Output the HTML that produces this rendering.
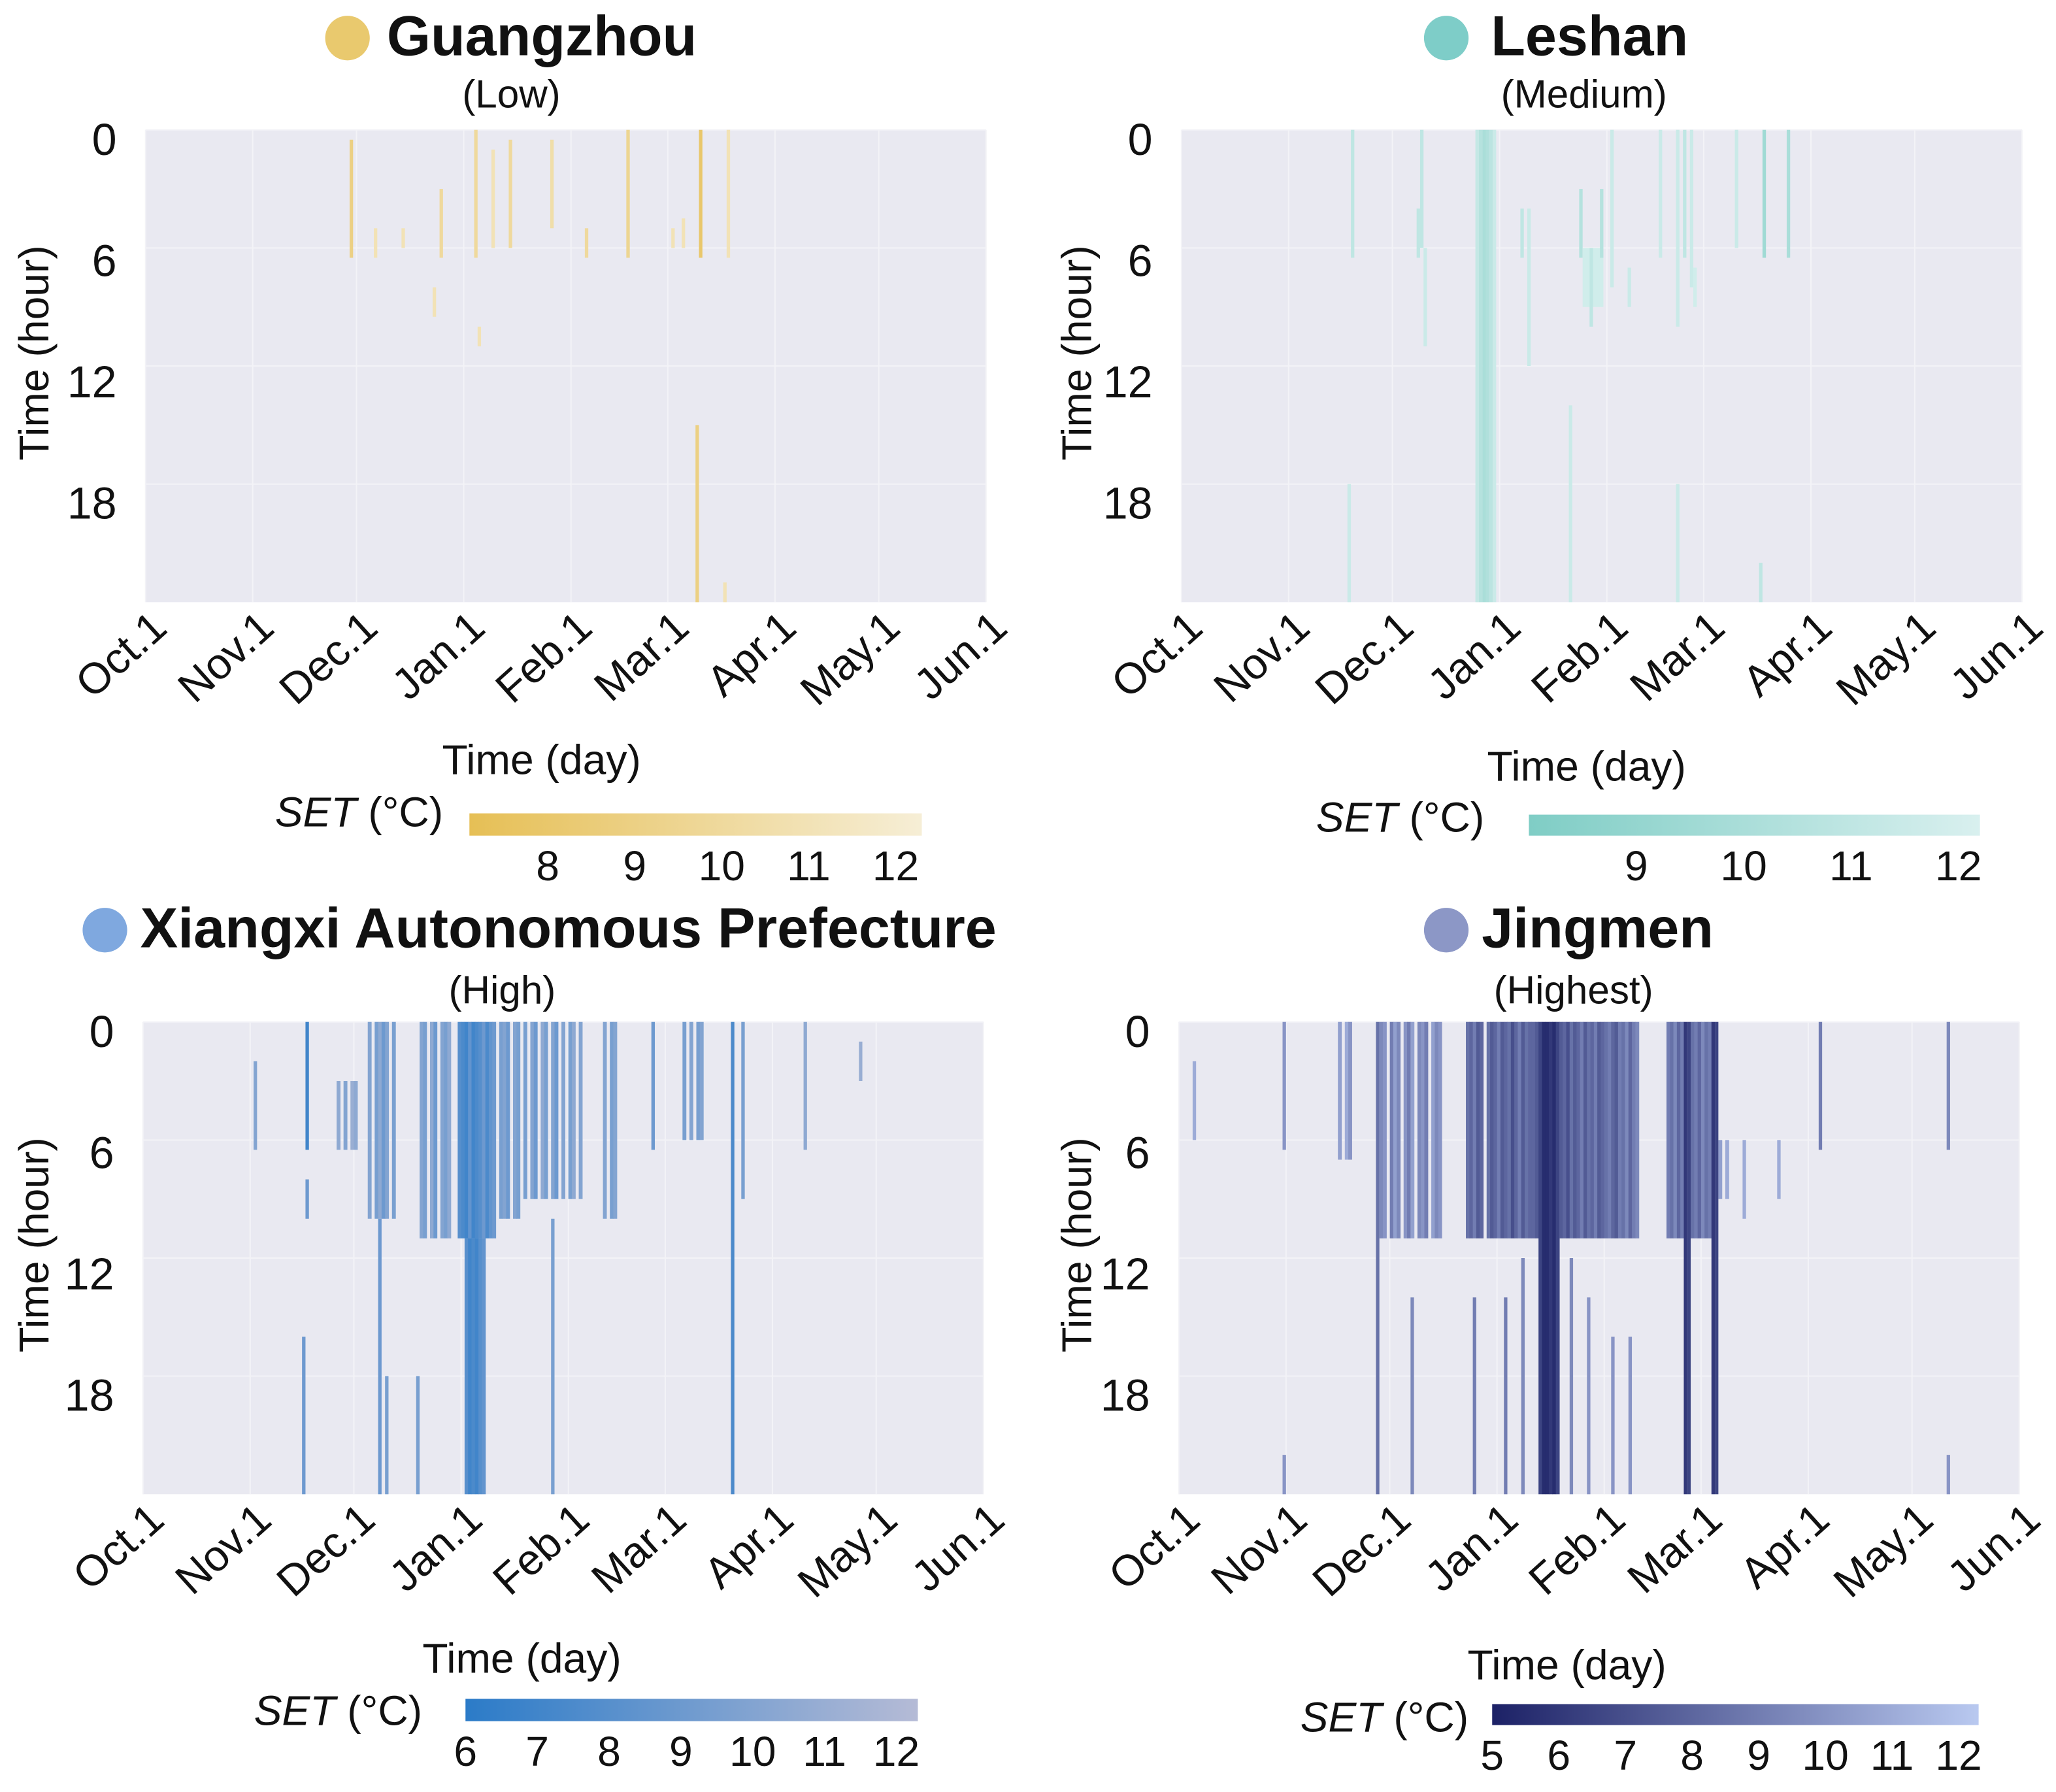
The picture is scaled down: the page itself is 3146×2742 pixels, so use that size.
<!DOCTYPE html>
<html><head><meta charset="utf-8">
<style>
html,body{margin:0;padding:0;background:#fff;}
svg{display:block;font-family:"Liberation Sans",Arial,sans-serif;}
</style></head>
<body>
<svg id="chart" width="3146" height="2742" viewBox="0 0 1568 1366" preserveAspectRatio="none" xmlns="http://www.w3.org/2000/svg"></svg>
<script>
// ---- data ----
const monthLabels = ["Oct.1","Nov.1","Dec.1","Jan.1","Feb.1","Mar.1","Apr.1","May.1","Jun.1"];
const monthDays = [0,31,61,92,123,151,182,212,243];
const hourTicks = [0,6,12,18];
const gzTicks = [8,9,10,11,12];
const lsTicks = [9,10,11,12];
const xxTicks = [6,7,8,9,10,11,12];
const jmTicks = [5,6,7,8,9,10,11,12];
// single events: [dayStart, dayEnd, hourStart, hourEnd, SET]
const gzEvents = [
 [59,60,0.5,6.5,9],[66,67,5,6.5,11],[74,75,5,6,11],[83,84,8,9.5,11],[85,86,3,6.5,10],
 [95,96,0,6.5,10],[96,97,10,11,11],[100,101,1,6,11],[105,106,0.5,6,10],[117,118,0.5,5,10.5],
 [127,128,5,6.5,10],[139,140,0,6.5,9.5],[152,153,5,6,11],[155,156,4.5,6,11],
 [160,161,0,6.5,8],[159,160,15,24,9],[168,169,0,6.5,11],[167,168,23,24,11]
];
const lsEvents = [
 [86,87,0,24,10.5],[87,88,0,24,10],[88,89,0,24,10.3],[89,90,0,24,10.8],[85,86,0,24,11.2],[90,91,0,24,11.5],
 [49,50,0,6.5,11],[48,49,18,24,11.5],[68,69,4,6.5,11],[69,70,0,6,11],[70,71,6,11,11.5],
 [98,99,4,6.5,11],[100,101,4,12,11.5],[112,113,14,24,11.5],[115,116,3,6.5,10.5],
 [116,122,6,9,11.8],[118,119,6,10,11],[121,122,3,6.5,10.5],[124,125,0,8,11.5],[129,130,7,9,11.5],
 [138,139,0,6.5,11.5],[143,144,0,10,11.5],[143,144,18,24,11.5],[145,146,0,6.5,11],[147,148,0,8,11.5],
 [148,149,7,9,11.8],[160,161,0,6,11.5],[168,169,0,6.5,9.5],[167,168,22,24,11],[175,176,0,6.5,10]
];
const xxEvents = [
 [32,33,2,6.5,10],[47,48,0,6.5,7],[47,48,8,10,9],[46,47,16,24,9],
 [68,69,10,24,9],[70,71,18,24,9.5],[79,80,18,24,9.5],[118,119,10,24,9.5],
 [147,148,0,6.5,9],[170,171,0,24,7.5],[173,174,0,9,9.5],
 [191,192,0,6.5,10.5],[207,208,1,3,11]
];
// stripe blocks: [firstDay, hourStart, hourEnd, per-day SET values (null = none)]
const xxStripes = [
 [56,3,6.5,[10.5,null,10,null,11,10.5]],
 [65,0,10,[10,null,9.5,10.5,9,10,null,9.5]],
 [80,0,11,[10,9.5,null,10.5,9,null,10,9.5,10.5]],
 [91,0,11,[8,7.5,7,8.5,7,7.5,8,9,7.5,8.5,9]],
 [93,11,24,[8,7,7.5,7,8,8.5]],
 [103,0,10,[9.5,10,9,null,10,9.5]],
 [110,0,9,[9.5,null,10,9,null,10.5,9.5,null,10,9,null,10,null,9.5,10.5,null,10]],
 [133,0,10,[10,null,9.5,10]],
 [156,0,6,[9.5,null,10,null,9.5,10,null]]
];
const jmEvents = [
 [4,5,2,6,11],[30,31,0,6.5,10],[30,31,22,24,10],[57,58,0,24,8.5],
 [67,68,14,24,9.5],[85,86,14,24,9],[94,95,14,24,9],[99,100,12,24,9.5],
 [113,114,12,24,9.5],[118,119,14,24,10],[125,126,16,24,10],[130,131,16,24,10],
 [146,147,0,24,6],[147,148,0,24,6.5],[154,155,0,24,6],[155,156,0,24,6.5],
 [163,164,6,10,11],[173,174,6,9,11],[185,186,0,6.5,9],[222,223,0,6.5,9.5],[222,223,22,24,10]
];
const jmStripes = [
 [46,0,7,[10.5,null,11,10,null]],
 [58,0,11,[9.5,10,null,9,10.5,9.5,null,10,9,10.5,null,9.5,10,9,null,10.5,9.5,10,null]],
 [83,0,11,[8.5,8,9,7.5,8,null,8.5,7.5,8,9,7.5,8,8.5,7,8,9,7.5,8.5,8]],
 [102,0,11,[8,7.5]],
 [104,0,24,[6.5,5.5,5.5,6,5.5,6.5]],
 [110,0,11,[7.5,8,7,8.5,7.5,8,9,7.5,8.5,8,9,7.5,8,8.5,9,8,7.5,9,8.5,9.5,8,9,9.5]],
 [141,0,11,[9,8.5,9.5,8,9]],
 [148,0,11,[8.5,9,8,9.5,8.5,9]],
 [156,6,9,[10.5,null,11]]
];

const panels = [
 {key:"guangzhou",name:"Guangzhou",level:"(Low)",dot:"#e9c96e",ev:gzEvents,st:[],ticks:gzTicks,
  px:111,py:99,pw:641,ph:360,titleX:295,dotX:265,titleY:42,subX:390,subY:82,
  cb:{x:358,y:620,w:345,h:17,min:7.1,max:12.3,lo:"#e6bf55",hi:"#f6eed6",label:338,ly:630},
  ytitleX:25,daytitle:[413,590]},
 {key:"leshan",name:"Leshan",level:"(Medium)",dot:"#7ecdc8",ev:lsEvents,st:[],ticks:lsTicks,
  px:901,py:99,pw:641,ph:360,titleX:1137,dotX:1103,titleY:42,subX:1208,subY:82,
  cb:{x:1166,y:621,w:344,h:16,min:8.0,max:12.2,lo:"#7fcdc5",hi:"#d9f0ef",label:1132,ly:634},
  ytitleX:820,daytitle:[1210,595]},
 {key:"xiangxi",name:"Xiangxi Autonomous Prefecture",level:"(High)",dot:"#7fa8df",ev:xxEvents,st:xxStripes,ticks:xxTicks,
  px:109,py:779,pw:641,ph:360,titleX:107,dotX:80,titleY:722,subX:383,subY:765,
  cb:{x:355,y:1295,w:345,h:17,min:6,max:12.3,lo:"#2b7bc8",hi:"#b5bbd6",label:322,ly:1315},
  ytitleX:25,daytitle:[398,1275]},
 {key:"jingmen",name:"Jingmen",level:"(Highest)",dot:"#8c97c6",ev:jmEvents,st:jmStripes,ticks:jmTicks,
  px:899,py:779,pw:641,ph:360,titleX:1130,dotX:1103,titleY:722,subX:1200,subY:765,
  cb:{x:1138,y:1299,w:371,h:16,min:5,max:12.3,lo:"#1c2166",hi:"#b9c9f0",label:1120,ly:1320},
  ytitleX:820,daytitle:[1195,1280]}
];

const NS="http://www.w3.org/2000/svg";
const svg=document.getElementById("chart");
function mk(tag,attrs,parent){const e=document.createElementNS(NS,tag);for(const k in attrs)e.setAttribute(k,attrs[k]);(parent||svg).appendChild(e);return e;}
function hex(c){return [1,3,5].map(i=>parseInt(c.substr(i,2),16));}
function lerpColor(a,b,t){t=Math.max(0,Math.min(1,t));const A=hex(a),B=hex(b);return "rgb("+A.map((v,i)=>Math.round(v+(B[i]-v)*t)).join(",")+")";}

panels.forEach((p,pi)=>{
 const g=mk("g",{});
 
 
 const xs=d=>p.px+d/243*p.pw;
 const ys=h=>p.py+h/24*p.ph;
 const col=v=>lerpColor(p.cb.lo,p.cb.hi,(v-p.cb.min)/(p.cb.max-p.cb.min));
 const dot=mk("circle",{cx:p.dotX,cy:p.titleY-13,r:17,fill:p.dot},g);
 
 
 const t=mk("text",{x:p.titleX,y:p.titleY,"font-size":43,"font-weight":"bold",fill:"#111"},g);
 t.textContent=p.name;
 
 
 const s=mk("text",{x:p.subX,y:p.subY,"font-size":30,"text-anchor":"middle",fill:"#111"},g);
 s.textContent=p.level;
 
 
 const bg=mk("rect",{x:p.px,y:p.py,width:p.pw,height:p.ph,fill:"#e9e9f1"},g);
 
 
 monthDays.forEach(d=>{const l=mk("line",{x1:xs(d),x2:xs(d),y1:p.py,y2:p.py+p.ph,stroke:"#f3f3f7","stroke-width":1},g);
  });
 hourTicks.forEach(h=>{const l=mk("line",{x1:p.px,x2:p.px+p.pw,y1:ys(h),y2:ys(h),stroke:"#f3f3f7","stroke-width":1},g);
  });
 p.st.forEach(b=>{
  b[3].forEach((v,i)=>{
   if(v===null)return;
   const d=b[0]+i;
   const c=mk("rect",{x:xs(d),y:ys(b[1]),width:xs(d+1)-xs(d)+0.3,height:ys(b[2])-ys(b[1]),fill:col(v)},g);
   
   
  });
 });
 p.ev.forEach(e=>{
  const c=mk("rect",{x:xs(e[0]),y:ys(e[2]),width:Math.max(1.5,xs(e[1])-xs(e[0])),height:ys(e[3])-ys(e[2]),fill:col(e[4])},g);
  
  
 });
 hourTicks.forEach(h=>{const tt=mk("text",{x:p.px-22,y:ys(h)+19+h*0.4,"font-size":34,"text-anchor":"end",fill:"#111"},g);
  tt.textContent=h;});
 const yt=mk("text",{x:p.ytitleX+12,y:p.py+p.ph/2-10,"font-size":32,"text-anchor":"middle",fill:"#111",
  transform:"rotate(-90 "+(p.ytitleX+12)+" "+(p.py+p.ph/2-10)+")"},g);
 yt.textContent="Time (hour)";
 monthDays.forEach((d,i)=>{const x=xs(d)+18,y=p.py+p.ph+22;
  const tt=mk("text",{x:x,y:y,"font-size":33,"text-anchor":"end",fill:"#111",transform:"rotate(-42 "+x+" "+y+")"},g);
  tt.textContent=monthLabels[i];});
 const xt=mk("text",{x:p.daytitle[0],y:p.daytitle[1],"font-size":32,"text-anchor":"middle",fill:"#111"},g);
 xt.textContent="Time (day)";
 const gid="grad"+pi;
 const defs=mk("defs",{},g);
 const lg=mk("linearGradient",{id:gid,x1:0,x2:1,y1:0,y2:0},defs);
 mk("stop",{offset:0,"stop-color":p.cb.lo},lg);mk("stop",{offset:1,"stop-color":p.cb.hi},lg);
 const cbr=mk("rect",{x:p.cb.x,y:p.cb.y,width:p.cb.w,height:p.cb.h,fill:"url(#"+gid+")"},g);
 
 const cl=mk("text",{x:p.cb.label,y:p.cb.ly,"font-size":32,"text-anchor":"end",fill:"#111"},g);
 cl.innerHTML='<tspan font-style="italic">SET</tspan> (°C)';
 
 p.ticks.forEach(v=>{const x=p.cb.x+(v-p.cb.min)/(p.cb.max-p.cb.min)*p.cb.w;
  const tt=mk("text",{x:x,y:p.cb.y+p.cb.h+34,"font-size":32,"text-anchor":"middle",fill:"#111"},g);
  tt.textContent=v;});
});
</script>
</body></html>
